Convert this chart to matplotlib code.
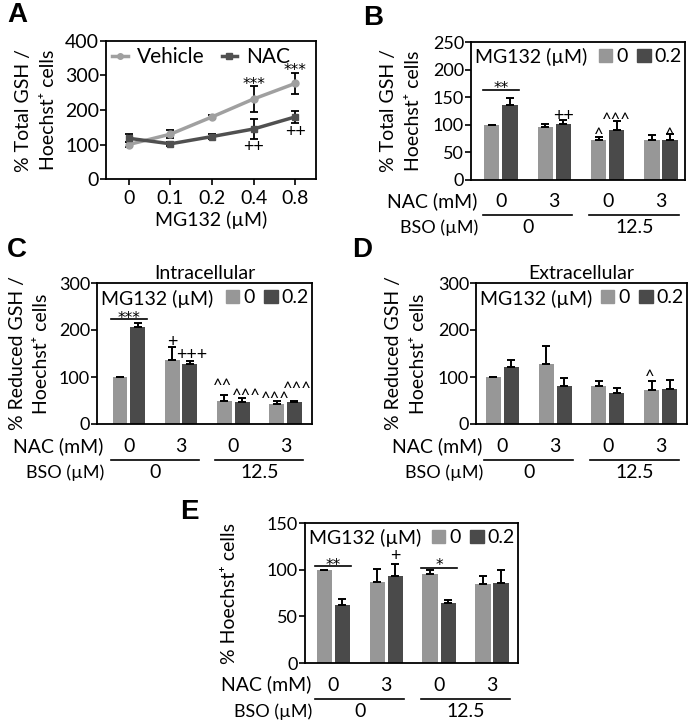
import matplotlib
matplotlib.use("Agg")
import matplotlib.pyplot as plt
from matplotlib.patches import Patch
from matplotlib.lines import Line2D

plt.rcParams['font.family'] = ['Lato', 'DejaVu Sans']
plt.rcParams['font.size'] = 13

LIGHT = "#979797"
DARK = "#4a4a4a"

# ---- data ----
doses = ["0", "0.1", "0.2", "0.4", "0.8"]
vehicle = [100, 130, 180, 232, 277]
vehicle_err = [6, 12, 5, 37, 30]
nac = [118, 102, 123, 145, 180]
nac_err = [12, 5, 8, 28, 17]

nac_labels = ["0", "3", "0", "3"]
bso_labels = ["0", "12.5"]

b_light = [100, 96, 72, 72]
b_light_err = [0, 5, 6, 10]
b_dark = [136, 102, 91, 73]
b_dark_err = [12, 7, 15, 10]

c_light = [100, 137, 48, 43]
c_light_err = [0, 27, 14, 7]
c_dark = [206, 128, 46, 46]
c_dark_err = [9, 7, 9, 4]

d_light = [100, 128, 81, 73]
d_light_err = [0, 37, 10, 19]
d_dark = [121, 80, 67, 75]
d_dark_err = [15, 18, 9, 19]

e_light = [100, 87, 95, 85]
e_light_err = [0, 14, 5, 8]
e_dark = [62, 93, 64, 86]
e_dark_err = [7, 13, 3, 14]

W, H = 690, 725
fig = plt.figure(figsize=(W / 100, H / 100), dpi=100)

# ink centre of each mark above its baseline, in points, and its font size
LIFT = {'^': 6.0, '+': 4.3, '*': 6.2}
SIZE = {'^': 12, '+': 13, '*': 11}


def place(left, right, top, bottom):
    return fig.add_axes([left / W, 1 - bottom / H, (right - left) / W, (bottom - top) / H])


def style(ax):
    for s in ax.spines.values():
        s.set_linewidth(1.3)
    ax.tick_params(axis='y', length=4, width=1.2, pad=1, labelsize=13)


def mark(ax, x, y, txt):
    k = txt[0]
    fam = 'DejaVu Sans' if k == '*' else None
    ax.annotate(txt, (x, y), xytext=(0, -LIFT[k]), textcoords='offset points',
                ha='center', va='baseline', fontsize=SIZE[k], family=fam)


def bracket(ax, x1, x2, y_line, y_txt, txt):
    ax.plot([x1, x2], [y_line, y_line], color='black', lw=1.2, zorder=4)
    mark(ax, (x1 + x2) / 2, y_txt, txt)


def bar_panel(ax, light, light_err, dark, dark_err, ymax, ystep, xlim, ylabel, pad):
    x = list(range(len(light)))
    off = 0.17
    w = 0.285
    xl = [i - off for i in x]
    xd = [i + off for i in x]
    ax.bar(xl, light, w, color=LIGHT, zorder=2)
    ax.bar(xd, dark, w, color=DARK, zorder=2)
    ax.errorbar(xl, light, yerr=[[0] * len(light), light_err], fmt='none', ecolor='black',
                elinewidth=1.4, capsize=3, capthick=1.4, zorder=3)
    ax.errorbar(xd, dark, yerr=[[0] * len(dark), dark_err], fmt='none', ecolor='black',
                elinewidth=1.4, capsize=3, capthick=1.4, zorder=3)
    ax.set_xlim(*xlim)
    ax.set_ylim(0, ymax)
    ax.set_yticks(range(0, ymax + 1, ystep))
    ax.set_xticks([])
    style(ax)
    ax.set_ylabel(ylabel, fontsize=14, linespacing=1.55, labelpad=pad)

    tr = ax.get_xaxis_transform()
    for i, lab in enumerate(nac_labels):
        ax.text(i, -0.197, lab, transform=tr, ha='center', va='baseline', fontsize=14)
    ax.text(xlim[0] + 0.12, -0.197, "NAC (mM)", transform=tr, ha='right', va='baseline', fontsize=14)
    ax.text(xlim[0] + 0.14, -0.385, "BSO (µM)", transform=tr, ha='right', va='baseline', fontsize=13)
    for g, lab in enumerate(bso_labels):
        a = 2 * g - 0.34
        b = 2 * g + 1 + 0.34
        ax.plot([a, b], [-0.257, -0.257], color='black', lw=1.2, transform=tr, clip_on=False)
        ax.text((a + b) / 2, -0.385, lab, transform=tr, ha='center', va='baseline', fontsize=14)

    ax.text(0.02, 0.89, "MG132 (µM)", transform=ax.transAxes, ha='left', va='center', fontsize=14)
    handles = [Patch(color=LIGHT), Patch(color=DARK)]
    ax.legend(handles, ["0", "0.2"], loc='upper right', bbox_to_anchor=(1.0, 0.975), ncol=2,
              frameon=False, fontsize=14, handlelength=0.7, handleheight=0.7,
              handletextpad=0.2, columnspacing=0.5, borderaxespad=0.0, borderpad=0.15)
    return xl, xd


# ---- panel A ----
axA = place(106, 316, 41, 179)
xa = list(range(len(doses)))
axA.errorbar(xa, vehicle, yerr=vehicle_err, color="#a0a0a0", lw=2.5, marker='o', ms=5,
             ecolor='black', elinewidth=1.3, capsize=3, capthick=1.3)
axA.errorbar(xa, nac, yerr=nac_err, color="#505050", lw=2.5, marker='s', ms=5,
             ecolor='black', elinewidth=1.3, capsize=3, capthick=1.3)
axA.set_xlim(-0.55, 4.5)
axA.set_ylim(0, 400)
axA.set_yticks(range(0, 401, 100))
axA.set_xticks(xa)
axA.set_xticklabels(doses)
style(axA)
axA.tick_params(axis='y', labelsize=14)
axA.tick_params(axis='x', length=4, width=1.2, labelsize=14, pad=4)
axA.set_xlabel("MG132 (µM)", fontsize=14, labelpad=3)
axA.set_ylabel("% Total GSH /\nHoechst⁺ cells", fontsize=14, linespacing=1.55, labelpad=6)
leg_h = [Line2D([], [], color="#a0a0a0", lw=2.5, marker='o', ms=4),
         Line2D([], [], color="#505050", lw=2.5, marker='s', ms=4)]
axA.legend(leg_h, ["Vehicle", "NAC"], loc='upper left', bbox_to_anchor=(0.0, 1.0), ncol=2,
           frameon=False, fontsize=15, handlelength=0.75, handletextpad=0.45, columnspacing=0.8,
           borderaxespad=0.1, borderpad=0.2)
mark(axA, 3, 285, "***")
mark(axA, 4, 325, "***")
mark(axA, 3, 96, "++")
mark(axA, 4, 139, "++")
fig.text(7 / W, 1 - 15 / H, "A", fontsize=20, fontweight='bold', family='Liberation Sans', va='center')

# ---- panel B ----
axB = place(471, 685, 42, 180)
xl, xd = bar_panel(axB, b_light, b_light_err, b_dark, b_dark_err, 250, 50, (-0.56, 3.45),
                   "% Total GSH /\nHoechst⁺ cells", 8)
bracket(axB, xl[0] - 0.17, xd[0] + 0.17, 163, 173, "**")
mark(axB, xd[1], 118, "++")
mark(axB, xd[2], 114, "^^^")
mark(axB, xl[2], 87, "^")
mark(axB, xd[3], 87, "^")
fig.text(363 / W, 1 - 18 / H, "B", fontsize=20, fontweight='bold', family='Liberation Sans', va='center')

# ---- panel C ----
axC = place(97, 312, 283, 424)
xl, xd = bar_panel(axC, c_light, c_light_err, c_dark, c_dark_err, 300, 100, (-0.61, 3.51),
                   "% Reduced GSH /\nHoechst⁺ cells", 6)
axC.set_title("Intracellular", fontsize=14, pad=3)
bracket(axC, xl[0] - 0.17, xd[0] + 0.17, 223, 234, "***")
mark(axC, xl[1], 177, "+")
mark(axC, xd[1] + 0.03, 149, "+++")
mark(axC, xl[2] - 0.03, 87, "^^")
mark(axC, xd[2] + 0.09, 66, "^^^")
mark(axC, xl[3] - 0.02, 60, "^^^")
mark(axC, xd[3] + 0.05, 81, "^^^")
fig.text(7 / W, 1 - 250 / H, "C", fontsize=20, fontweight='bold', family='Liberation Sans', va='center')

# ---- panel D ----
axD = place(476, 687, 283, 424)
xl, xd = bar_panel(axD, d_light, d_light_err, d_dark, d_dark_err, 300, 100, (-0.5, 3.5),
                   "% Reduced GSH /\nHoechst⁺ cells", 8)
axD.set_title("Extracellular", fontsize=14, pad=3)
mark(axD, xl[3] - 0.04, 108, "^")
fig.text(352 / W, 1 - 250 / H, "D", fontsize=20, fontweight='bold', family='Liberation Sans', va='center')

# ---- panel E ----
axE = place(305, 518, 523, 663)
xl, xd = bar_panel(axE, e_light, e_light_err, e_dark, e_dark_err, 150, 50, (-0.53, 3.49),
                   "% Hoechst⁺ cells", 21)
bracket(axE, xl[0] - 0.17, xd[0] + 0.17, 104, 109, "**")
bracket(axE, xl[2] - 0.17, xd[2] + 0.17, 101.5, 108.5, "*")
mark(axE, xd[1], 116, "+")
fig.text(180 / W, 1 - 512 / H, "E", fontsize=20, fontweight='bold', family='Liberation Sans', va='center')

fig.savefig("out.png", dpi=100)
